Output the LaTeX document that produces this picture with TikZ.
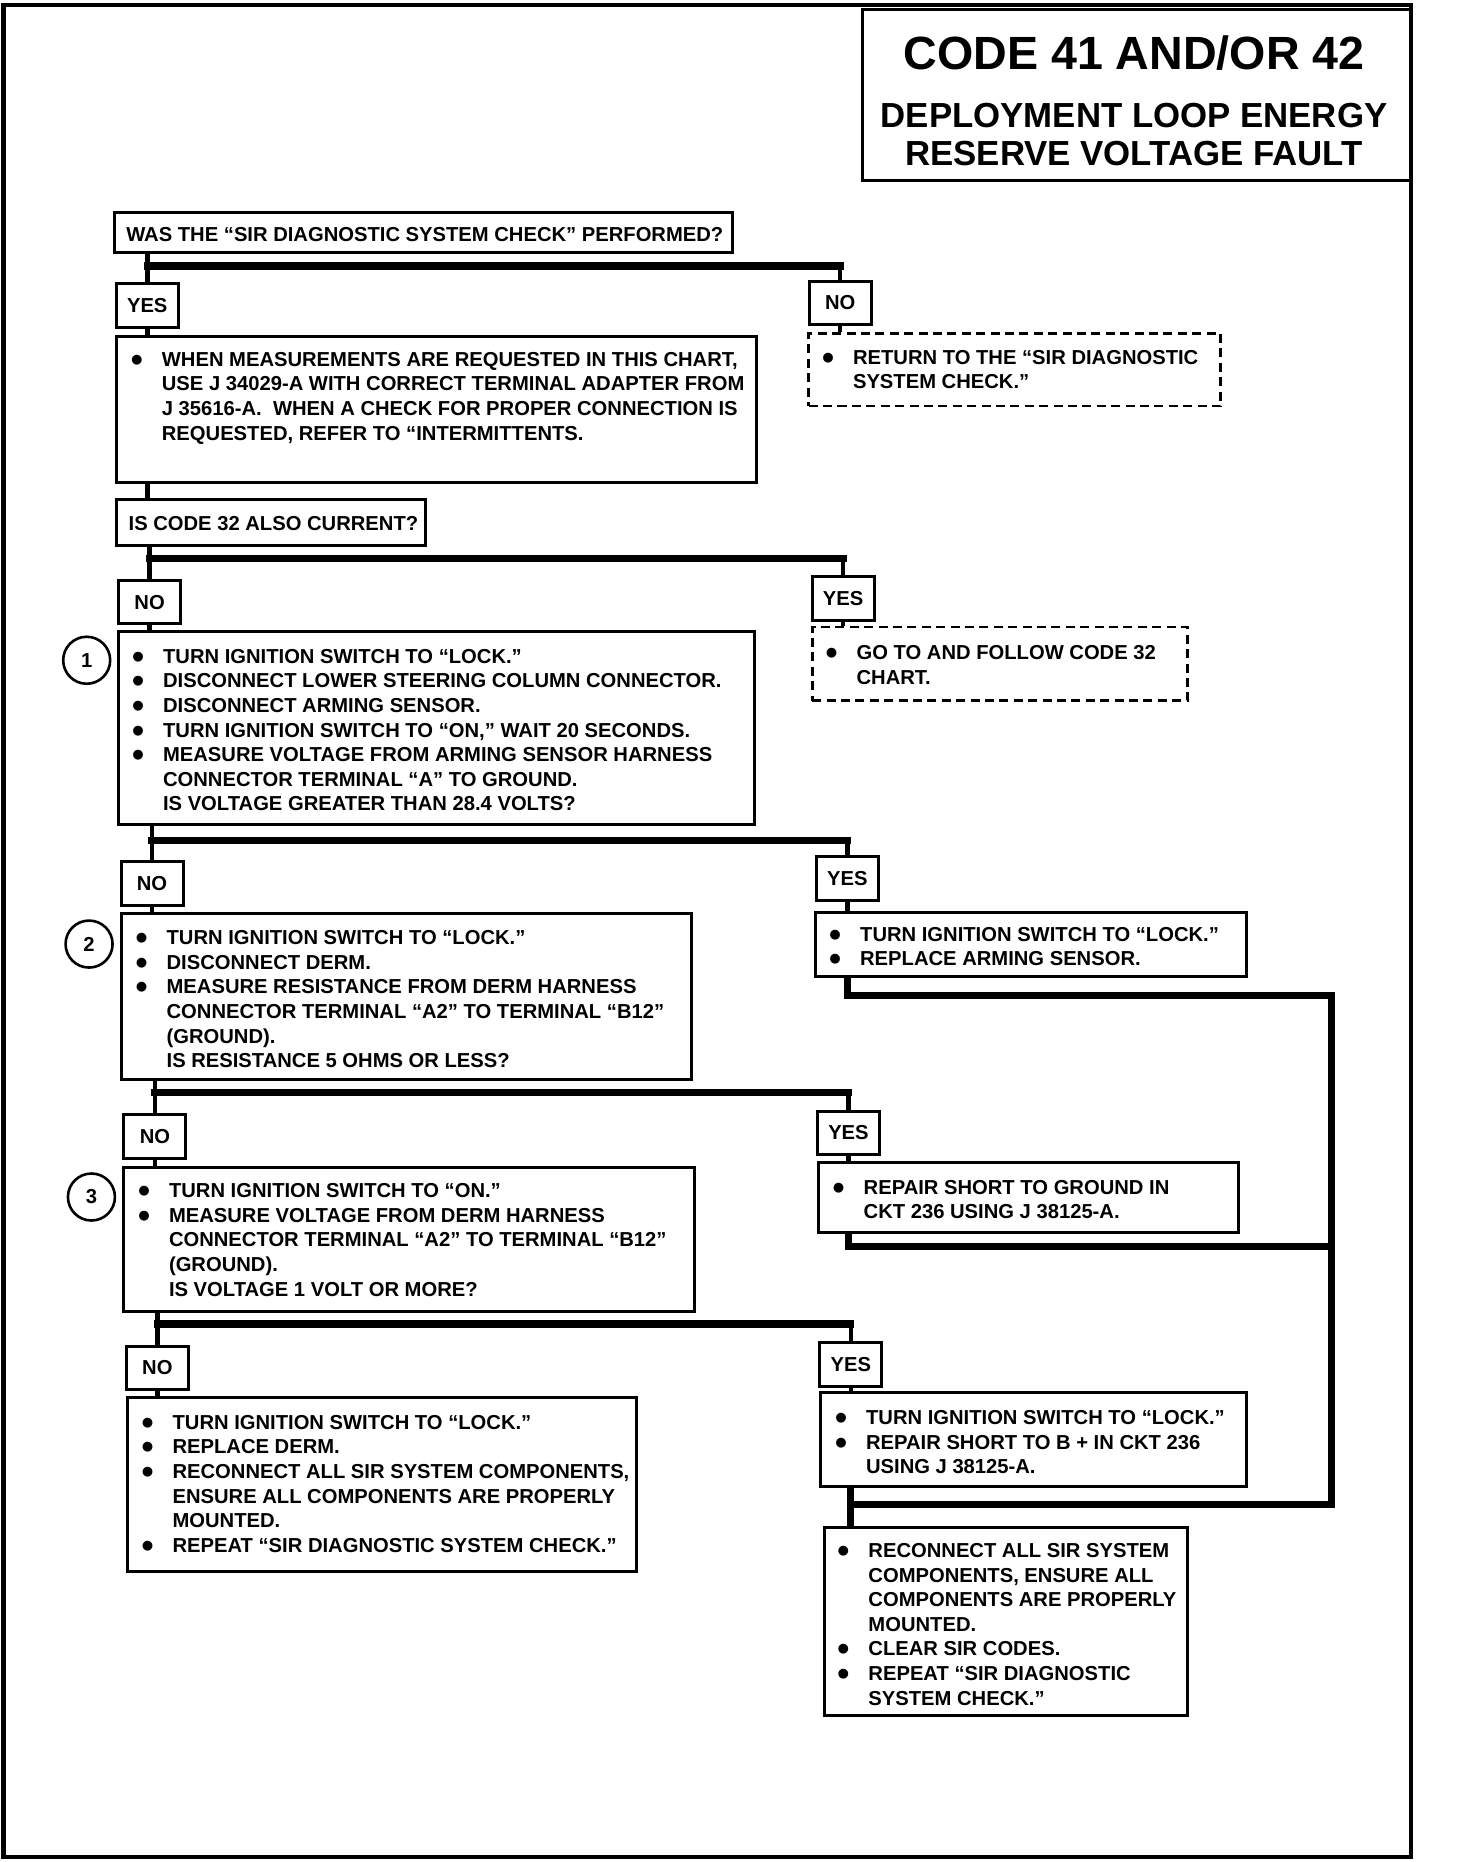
\documentclass[tikz,border=0pt]{standalone}
\usepackage{fontspec}
\setmainfont{Liberation Sans}
\usetikzlibrary{fit,shadows}
\newcommand\bl{\leavevmode\llap{\makebox[0pt]{\raisebox{-2.5pt}{\scalebox{1.7}{\textbullet}}}\hspace{12.5pt}}}
\newcommand\boxtext[4]{\node[txt,anchor=north west] (#1) at (#2,#3-8.3) {\strut #4};}
\begin{document}
\begin{tikzpicture}[x=0.59375pt, y=-0.59375pt,
  box/.style={draw, line width=1.5pt, fill=white, inner sep=0pt,
    drop shadow={shadow xshift=0.7pt, shadow yshift=-0.7pt, opacity=1, fill=black}},
  lbl/.style={box, minimum width=31pt, minimum height=21.8pt, font={\fontsize{10.1}{12.3}\selectfont\bfseries}},
  dbox/.style={draw, line width=1.3pt, dash pattern=on 4.5pt off 2.7pt, inner sep=0pt},
  txt/.style={inner sep=0pt, align=left, font={\fontsize{10.1}{12.3}\selectfont\bfseries}},
  num/.style={circle, draw, line width=1.3pt, minimum size=23.5pt, inner sep=0pt, font={\fontsize{10.1}{12.3}\selectfont\bfseries}},
  conn/.style={line width=2.3pt},
  bar/.style={line width=3.6pt, line cap=rect},
  ttl/.style={inner sep=0pt, font={\fontsize{#1}{#1}\selectfont\bfseries}}]
\useasboundingbox (0,0) rectangle (1226.3,1568);
\fill[white] (0,0) rectangle (1226.3,1568);
\draw[line width=2.2pt] (3,4) rectangle (1188,1564);

% title
\node[box, fit={(726,8) (1188,152)}] (T) {};
\node[ttl=23.3] (t1) at (955,45) {CODE 41 AND/OR 42};
\node[ttl=17.4] (t2) at (955,97) {DEPLOYMENT LOOP ENERGY};
\node[ttl=17.4] (t3) at (955,129) {RESERVE VOLTAGE FAULT};

% question 0
\node[box, fit={(96,179) (617,213)}] (Q0) {};
\boxtext{Q0t}{106}{197}{WAS THE “SIR DIAGNOSTIC SYSTEM CHECK” PERFORMED?}
\node[lbl] (Y0) at (124,257.5) {YES};
\node[lbl] (N0) at (707.5,255) {NO};
\node[box, fit={(98,283) (637,406)}] (A) {};
\boxtext{At}{136}{302}{\bl WHEN MEASUREMENTS ARE REQUESTED IN THIS CHART,\\
USE J 34029-A WITH CORRECT TERMINAL ADAPTER FROM\\
J 35616-A.\ \ WHEN A CHECK FOR PROPER CONNECTION IS\\
REQUESTED, REFER TO “INTERMITTENTS.}
\node[dbox, fit={(681,281) (1028,342)}] (B) {};
\boxtext{Bt}{718}{300}{\bl RETURN TO THE “SIR DIAGNOSTIC\\
SYSTEM CHECK.”}

% question 1
\node[box, fit={(98,421) (358,459)}] (Q1) {};
\boxtext{Q1t}{108}{440}{IS CODE 32 ALSO CURRENT?}
\node[lbl] (N1) at (126,507) {NO};
\node[lbl] (Y1) at (710,504) {YES};
\node[box, fit={(100,532) (635,694)}] (S1) {};
\node[num] (c1) at (73,556) {1};
\boxtext{S1t}{137}{552}{\bl TURN IGNITION SWITCH TO “LOCK.”\\
\bl DISCONNECT LOWER STEERING COLUMN CONNECTOR.\\
\bl DISCONNECT ARMING SENSOR.\\
\bl TURN IGNITION SWITCH TO “ON,” WAIT 20 SECONDS.\\
\bl MEASURE VOLTAGE FROM ARMING SENSOR HARNESS\\
CONNECTOR TERMINAL “A” TO GROUND.\\
IS VOLTAGE GREATER THAN 28.4 VOLTS?}
\node[dbox, fit={(684,528) (1000,590)}] (C) {};
\boxtext{Ct}{721}{549}{\bl GO TO AND FOLLOW CODE 32\\
CHART.}

% step 2
\node[lbl] (N2) at (128,744) {NO};
\node[lbl] (Y2) at (713.5,740) {YES};
\node[box, fit={(102,769) (582,909)}] (S2) {};
\node[num] (c2) at (75,795) {2};
\boxtext{S2t}{140}{789}{\bl TURN IGNITION SWITCH TO “LOCK.”\\
\bl DISCONNECT DERM.\\
\bl MEASURE RESISTANCE FROM DERM HARNESS\\
CONNECTOR TERMINAL “A2” TO TERMINAL “B12”\\
(GROUND).\\
IS RESISTANCE 5 OHMS OR LESS?}
\node[box, fit={(687,768) (1050,822)}] (D) {};
\boxtext{Dt}{724}{786}{\bl TURN IGNITION SWITCH TO “LOCK.”\\
\bl REPLACE ARMING SENSOR.}

% step 3
\node[lbl] (N3) at (130.5,957) {NO};
\node[lbl] (Y3) at (714.5,954) {YES};
\node[box, fit={(104,983) (585,1104)}] (S3) {};
\node[num] (c3) at (77,1008) {3};
\boxtext{S3t}{142}{1002}{\bl TURN IGNITION SWITCH TO “ON.”\\
\bl MEASURE VOLTAGE FROM DERM HARNESS\\
CONNECTOR TERMINAL “A2” TO TERMINAL “B12”\\
(GROUND).\\
IS VOLTAGE 1 VOLT OR MORE?}
\node[box, fit={(689,979) (1043,1038)}] (E) {};
\boxtext{Et}{727}{999}{\bl REPAIR SHORT TO GROUND IN\\
CKT 236 USING J 38125-A.}

% step 4
\node[lbl] (N4) at (132.5,1152) {NO};
\node[lbl] (Y4) at (716.5,1149) {YES};
\node[box, fit={(107,1177) (536,1323)}] (F) {};
\boxtext{Ft}{145}{1197}{\bl TURN IGNITION SWITCH TO “LOCK.”\\
\bl REPLACE DERM.\\
\bl RECONNECT ALL SIR SYSTEM COMPONENTS,\\
ENSURE ALL COMPONENTS ARE PROPERLY\\
MOUNTED.\\
\bl REPEAT “SIR DIAGNOSTIC SYSTEM CHECK.”}
\node[box, fit={(691,1173) (1050,1252)}] (G) {};
\boxtext{Gt}{729}{1193}{\bl TURN IGNITION SWITCH TO “LOCK.”\\
\bl REPAIR SHORT TO B + IN CKT 236\\
USING J 38125-A.}
\node[box, fit={(694,1286) (1000,1445)}] (H) {};
\boxtext{Ht}{731}{1305}{\bl RECONNECT ALL SIR SYSTEM\\
COMPONENTS, ENSURE ALL\\
COMPONENTS ARE PROPERLY\\
MOUNTED.\\
\bl CLEAR SIR CODES.\\
\bl REPEAT “SIR DIAGNOSTIC\\
SYSTEM CHECK.”}

% connectors
\coordinate (b0) at (0,224);
\coordinate (b1) at (0,470);
\coordinate (b2) at (0,708);
\coordinate (b3) at (0,920);
\coordinate (b4) at (0,1115);
\coordinate (rt) at (1121,838);
\coordinate (re) at (1121,1050);
\coordinate (rb) at (1121,1267);

\draw[conn] (Q0.south -| Y0) -- (Y0.north);
\draw[bar] (b0 -| Y0) -- (b0 -| N0);
\draw[conn] (b0 -| N0) -- (N0.north);
\draw[conn] (Y0.south) -- (A.north -| Y0);
\draw[conn] (N0.south) -- (B.north -| N0);
\draw[conn] (A.south -| Y0) -- (Q1.north -| Y0);

\draw[conn] (Q1.south -| N1) -- (N1.north);
\draw[bar] (b1 -| N1) -- (b1 -| Y1);
\draw[conn] (b1 -| Y1) -- (Y1.north);
\draw[conn] (N1.south) -- (S1.north -| N1);
\draw[conn] (Y1.south) -- (C.north -| Y1);

\draw[conn] (S1.south -| N2) -- (N2.north);
\draw[bar] (b2 -| N2) -- (b2 -| Y2);
\draw[conn] (b2 -| Y2) -- (Y2.north);
\draw[conn] (N2.south) -- (S2.north -| N2);
\draw[conn] (Y2.south) -- (D.north -| Y2);

\draw[conn] (S2.south -| N3) -- (N3.north);
\draw[bar] (b3 -| N3) -- (b3 -| Y3);
\draw[conn] (b3 -| Y3) -- (Y3.north);
\draw[conn] (N3.south) -- (S3.north -| N3);
\draw[conn] (Y3.south) -- (E.north -| Y3);

\draw[conn] (S3.south -| N4) -- (N4.north);
\draw[bar] (b4 -| N4) -- (b4 -| Y4);
\draw[conn] (b4 -| Y4) -- (Y4.north);
\draw[conn] (N4.south) -- (F.north -| N4);
\draw[conn] (Y4.south) -- (G.north -| Y4);

\draw[line width=3.4pt] (D.south -| Y2) |- (rt) -- (rb) -- (rb -| Y4);
\draw[line width=3.4pt] (E.south -| Y3) |- (re);
\draw[line width=3.4pt] (G.south -| Y4) -- (H.north -| Y4);
\end{tikzpicture}
\end{document}
